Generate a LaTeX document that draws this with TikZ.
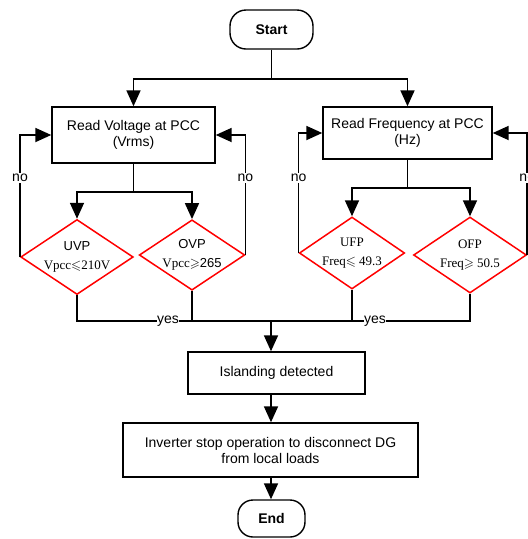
\documentclass[tikz,border=0pt]{standalone}
\usepackage{amssymb}
\usepackage{fontspec}
\setmainfont{Liberation Sans}
\newfontfamily\serifrm{Liberation Serif}
\usetikzlibrary{arrows.meta,shapes.geometric,positioning}
\begin{document}
\begin{tikzpicture}[x=1pt,y=-1pt,
  every node/.style={font=\fontsize{14}{16}\selectfont},
  line/.style={line width=1.8pt,black},
  arr/.style={line, -{Triangle[length=16pt,width=14pt]}},
  procbox/.style={draw,line width=1.4pt,inner sep=0pt,align=center},
  termbox/.style={draw,line width=1.4pt,rounded corners=16pt,inner sep=0pt,font=\bfseries\fontsize{14}{16}\selectfont},
  decision/.style={diamond,draw=red,line width=1.5pt,inner sep=0pt,aspect=1.5,align=center,font=\fontsize{13}{19}\selectfont},
  lab/.style={fill=white,inner sep=1pt}]
\useasboundingbox (0,0) rectangle (528,539);

% terminals and process boxes
\node[termbox,minimum width=83pt,minimum height=39pt] (start) at (271.5,29.5) {Start};
\node[procbox,minimum width=163pt,minimum height=56pt] (volt) at (133.5,135) {Read Voltage at PCC\\(Vrms)};
\node[procbox,minimum width=169pt,minimum height=52pt] (freq) at (407.5,133) {Read Frequency at PCC\\(Hz)};
\node[procbox,minimum width=177pt,minimum height=42pt] (isl) at (276.5,373) {Islanding detected};
\node[procbox,minimum width=295pt,minimum height=54pt] (inv) at (270.5,450) {Inverter stop operation to disconnect DG\\from local loads};
\node[termbox,rounded corners=15pt,minimum width=67pt,minimum height=37pt] (end) at (271.5,518.5) {End};

% decisions
\node[decision,minimum width=109pt,minimum height=70pt] (uvp) at (77,257) {UVP\\{\serifrm Vpcc$\leqslant$210V}};
\node[decision,minimum width=103pt,minimum height=66pt] (ovp) at (192,255) {OVP\\{\serifrm Vpcc$\geqslant$}265};
\node[decision,minimum width=105pt,minimum height=72pt] (ufp) at (352,253) {\serifrm UFP\\\serifrm Freq$\leqslant$ 49.3};
\node[decision,minimum width=113pt,minimum height=76pt] (ofp) at (470,255) {\serifrm OFP\\\serifrm Freq$\geqslant$ 50.5};

% junction points
\coordinate (splitT) at (271.5,79);
\coordinate (splitV) at (133.5,192);
\coordinate (splitF) at (407.5,188);
\coordinate (join) at (271,321);

% start branches to both measurements
\draw[line] (start.south) -- (splitT);
\draw[arr] (splitT) -| (volt.north);
\draw[arr] (splitT) -| (freq.north);

% voltage checks
\draw[line] (volt.south) -- (splitV);
\draw[arr] (splitV) -| (uvp.north);
\draw[arr] (splitV) -| (ovp.north);

% frequency checks
\draw[line] (freq.south) -- (splitF);
\draw[arr] (splitF) -| (ufp.north);
\draw[arr] (splitF) -| (ofp.north);

% "no" loops back to the reading boxes
\draw[arr] (uvp.west) |- (volt.west);
\draw[arr] (ovp.east) |- (volt.east);
\draw[arr] (ufp.west) |- (freq.west);
\draw[arr] (ofp.east) |- (freq.east);
\node[lab] (no1) at (uvp.west |- 0,178) {no};
\node[lab] (no2) at (ovp.east |- 0,178) {no};
\node[lab] (no3) at (ufp.west |- 0,178) {no};
\node[lab] (no4) at (ofp.east |- 0,178) {no};

% "yes" paths merge into the main line
\draw[line] (uvp.south) -- (uvp.south |- join) -- (ofp.south |- join) -- (ofp.south);
\draw[line] (ovp.south) -- (ovp.south |- join);
\draw[line] (ufp.south) -- (ufp.south |- join);
\node[lab,inner sep=0.5pt] (yes1) at (168,321) {yes};
\node[lab,inner sep=0.5pt] (yes2) at (375,321) {yes};

% main sequence
\draw[arr] (join) -- (join |- isl.north);
\draw[arr] (join |- isl.south) -- (join |- inv.north);
\draw[arr] (join |- inv.south) -- (join |- end.north);
\end{tikzpicture}
\end{document}
